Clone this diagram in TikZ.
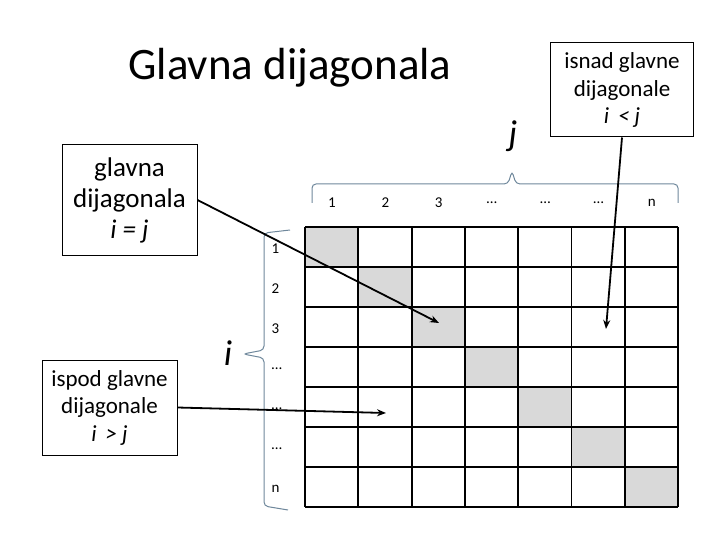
\documentclass[tikz,border=0pt]{standalone}
\usepackage{fontspec}
\setmainfont{Carlito}
\usepackage{tikz}
\usetikzlibrary{arrows.meta, positioning, calc}

\definecolor{diaggray}{RGB}{217,217,217}
\definecolor{bracecol}{RGB}{110,135,155}

\begin{document}
\begin{tikzpicture}[
    x=1pt, y=-1pt,
    note/.style={rectangle, draw, line width=1pt, align=center, inner sep=2pt},
    bignote/.style={note, font=\fontsize{27}{31}\selectfont},
    smallnote/.style={note, font=\fontsize{23}{27.5}\selectfont},
    gridline/.style={line width=1.8pt},
    pointer/.style={-{Stealth[length=9pt,width=7pt]}, line width=1.8pt},
    brace/.style={draw=bracecol, line width=1pt, rounded corners=4pt},
    lab/.style={font=\fontsize{15}{17}\selectfont},
    index/.style={font=\fontsize{36}{40}\selectfont\itshape}
]
    \useasboundingbox (0,0) rectangle (720,540);
    % Title
    \node[font=\fontsize{45}{50}\selectfont] (title) at (290,68) {Glavna dijagonala};
    % Notes
    \node[bignote, minimum width=135pt, minimum height=110pt] (eq) at (129.5,200)
        {glavna\\ dijagonala\\ \textit{i = j}};
    \node[smallnote, minimum width=143pt, minimum height=94pt] (above) at (622,90)
        {isnad glavne\\ dijagonale\\ \textit{i\,\ < j}};
    \node[smallnote, minimum width=135pt, minimum height=95pt] (below) at (109.5,407.5)
        {ispod glavne\\ dijagonale\\ \textit{i\,\ > j}};
    % Matrix
    \foreach \k in {0,...,6}
        \fill[diaggray] (305+53.3*\k,227+40*\k) rectangle ++(53.3,40);
    \foreach \k in {0,...,7} {
        \draw[gridline] (305+53.3*\k,227) -- (305+53.3*\k,507);
        \draw[gridline] (305,227+40*\k) -- (678.1,227+40*\k);
    }
    % Indices
    \foreach \lab [count=\c from 0] in {1,2,3,…,…,…,n}
        \node[lab] (col\c) at (332+53.3*\c,203) {\lab};
    \foreach \lab [count=\r from 0] in {1,2,3,…,…,…,n}
        \node[lab, anchor=west] (row\r) at (268,249+40*\r) {\lab};
    \draw[brace] (312,203) -- (312,184) -- (508,184) -- (512,171) -- (516,184) -- (678,184) -- (678,203);
    \draw[brace] (290,230) -- (264,233) -- (264,350) -- (243,354) -- (264,358) -- (264,506) -- (288,510);
    \node[index] (j) at (513,136) {j};
    \node[index] (i) at (228,353) {i};
    % Connections
    \coordinate (ondiag) at (439,323);
    \coordinate (upper) at (606,329);
    \coordinate (lower) at (386,413);
    \draw[pointer] (eq.east) -- (ondiag);
    \draw[pointer] (above.south) -- (upper);
    \draw[pointer] (below.east) -- (lower);
\end{tikzpicture}
\end{document}
